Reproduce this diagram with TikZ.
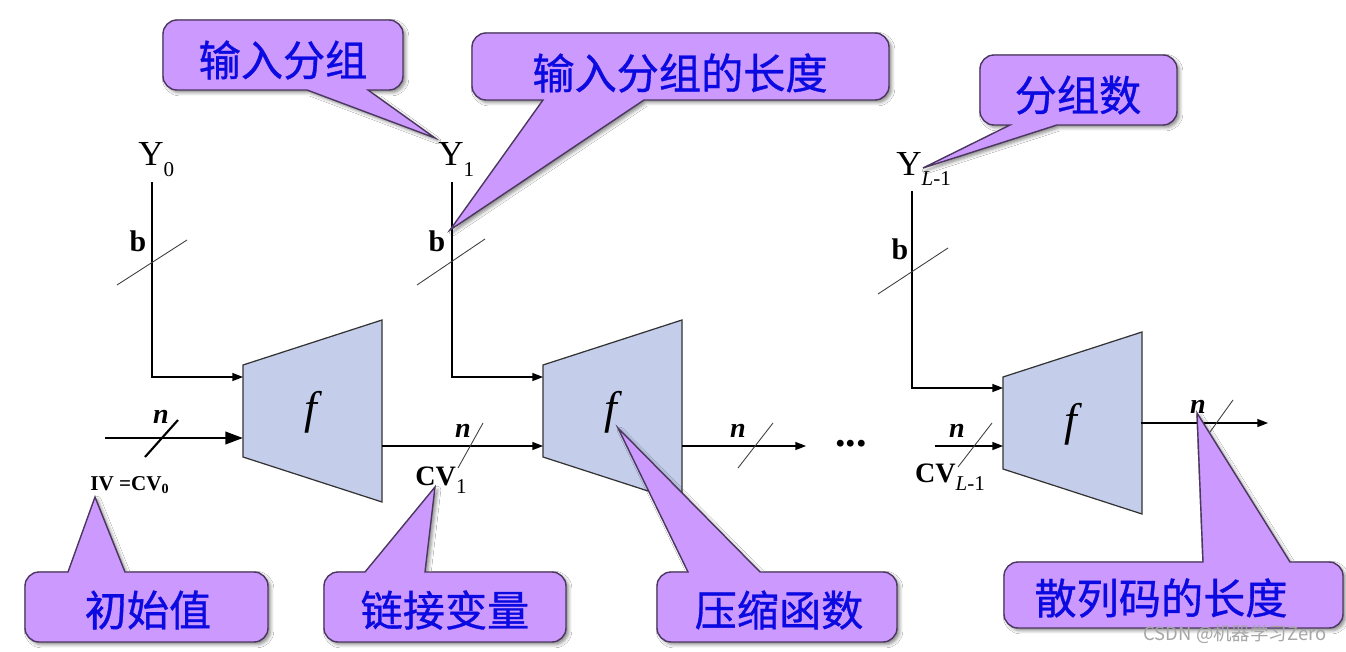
\documentclass[tikz,border=0pt]{standalone}
\usepackage{fontspec}
\setmainfont{Liberation Serif}
\newfontfamily\cjk{Noto Sans CJK SC}
\newfontfamily\cjkm{Noto Sans CJK SC}[FakeBold=0.8]
\usetikzlibrary{arrows.meta,shadows.blur}
\definecolor{boxBlue}{RGB}{196,206,235}
\definecolor{bubblePurple}{RGB}{204,153,255}
\definecolor{bubbleEdge}{RGB}{75,55,95}
\definecolor{labelBlue}{RGB}{10,10,225}
\newcommand{\idx}[1]{\raisebox{-0.3em}{\fontsize{12}{12}\selectfont #1}}

\begin{document}
\begin{tikzpicture}[x=0.02cm, y=-0.02cm,
  wire/.style={line width=0.8pt, -{Triangle[length=6pt,width=4.5pt]}},
  tick/.style={line width=0.5pt, black!75},
  fbox/.style={fill=boxBlue, draw=black!80, line width=0.7pt},
  flab/.style={font=\fontsize{26}{26}\selectfont},
  ylab/.style={anchor=base, inner sep=0pt, font=\fontsize{20}{20}\selectfont},
  blab/.style={anchor=base, inner sep=0pt, font=\bfseries\fontsize{17}{17}\selectfont},
  nlab/.style={anchor=base, inner sep=0pt, font=\bfseries\itshape\fontsize{16}{16}\selectfont},
  cvlab/.style={anchor=base, inner sep=0pt, font=\bfseries\fontsize{16}{16}\selectfont},
  bubble/.style={fill=bubblePurple, draw=bubbleEdge, line width=0.8pt,
    blur shadow={shadow xshift=1.5pt, shadow yshift=-1.5pt, shadow blur steps=4, shadow opacity=45}},
  bubbletext/.style={text=labelBlue, font=\cjkm\fontsize{24}{28}\selectfont}]

% Background
\fill[white] (0,0) rectangle (1346,652);
\useasboundingbox (0,0) rectangle (1346,652);

% Compression function boxes
\foreach \name/\x/\y in {f1/243/365, f2/543/365, f3/1003/377} {
  \draw[fbox] (\x,\y) -- ++(139,-45) -- ++(0,182) -- ++(-139,-45) -- cycle;
  \node[flab] (\name) at (\x+70,\y+47) {\textit{f}};
}

% Ports on the boxes
\coordinate (f1b) at (243,377);
\coordinate (f1c) at (243,438);
\coordinate (f1o) at (382,446);
\coordinate (f2b) at (543,377);
\coordinate (f2c) at (543,446);
\coordinate (f2o) at (682,446);
\coordinate (f3b) at (1003,388);
\coordinate (f3c) at (1003,446);
\coordinate (f3o) at (1141,423);

% Message blocks
\node[ylab] (Y0) at (151,166) {Y\rlap{\idx{0}}};
\node[ylab] (Y1) at (451,166) {Y\rlap{\idx{1}}};
\node[ylab] (YL) at (909,175) {Y\rlap{\idx{\textit{L}-1}}};
\coordinate (y0top) at (152,182);
\coordinate (y1top) at (452,182);
\coordinate (yLtop) at (912,191);
\draw[wire] (y0top) |- (f1b);
\draw[wire] (y1top) |- (f2b);
\draw[wire] (yLtop) |- (f3b);

% Block width marks
\draw[tick] (117,285) -- (187,240);
\draw[tick] (417,285) -- (485,239);
\draw[tick] (878,294) -- (948,248);
\node[blab] (b0) at (138,251) {b};
\node[blab] (b1) at (437,251) {b};
\node[blab] (bL) at (900,259) {b};

% Chaining values
\coordinate (ivstart) at (105,438);
\coordinate (out2end) at (806,446);
\coordinate (cvLstart) at (935,446);
\coordinate (out3end) at (1268,423);
\draw[line width=1.5pt, -{Triangle[length=10pt,width=7pt]}] (ivstart) -- (f1c);
\draw[wire] (f1o) -- (f2c);
\draw[wire] (f2o) -- (out2end);
\draw[wire] (cvLstart) -- (f3c);
\draw[wire] (f3o) -- (out3end);

% Chaining value width marks
\draw[line width=1.2pt] (145,457) -- (178,420);
\draw[tick] (458,468) -- (483,423);
\draw[tick] (738,468) -- (773,423);
\draw[tick] (958,467) -- (992,423);
\draw[tick] (1210,432) -- (1233,400);
\node[nlab] (n0) at (161,423) {n};
\node[nlab] (n1) at (463,437) {n};
\node[nlab] (n2) at (738,437) {n};
\node[nlab] (nL) at (957,437) {n};
\node[nlab] (nout) at (1198,413) {n};
\node[anchor=base, inner sep=0pt, font=\bfseries\fontsize{24}{24}\selectfont] (dots) at (851,446) {...};

\node[anchor=base, inner sep=0pt, font=\bfseries\fontsize{12}{12}\selectfont] (iv) at (130,490) {IV =CV\textsubscript{0}};
\node[cvlab] (cv1) at (441,485) {CV\idx{\mdseries 1}};
\node[cvlab] (cvL) at (950,482) {CV\idx{\mdseries\textit{L}-1}};

% Callouts
\draw[bubble] (163,55) [rounded corners=8pt] -- (163,20) -- (403,20) -- (403,90) [sharp corners] -- (368,90) -- (435,138) -- (307,90) [rounded corners=8pt] -- (163,90) -- cycle;
\node[bubbletext] (c1) at (283,60) {输入分组};

\draw[bubble] (889,66) [rounded corners=8pt] -- (889,100) [sharp corners] -- (644,100) -- (450,230) -- (543,100) [rounded corners=8pt] -- (472,100) -- (472,33) -- (889,33) -- cycle;
\node[bubbletext] (c2) at (680,73) {输入分组的长度};

\draw[bubble] (1177,90) [rounded corners=8pt] -- (1177,125) [sharp corners] -- (1057,125) -- (923,168) -- (1010,125) [rounded corners=8pt] -- (980,125) -- (980,55) -- (1177,55) -- cycle;
\node[bubbletext] (c3) at (1078,95) {分组数};

\draw[bubble] (25,607) [rounded corners=8pt] -- (25,572) [sharp corners] -- (68,572) -- (95,497) -- (125,572) [rounded corners=8pt] -- (268,572) -- (268,642) -- (25,642) -- cycle;
\node[bubbletext] (c4) at (148,610) {初始值};

\draw[bubble] (324,607) [rounded corners=8pt] -- (324,572) [sharp corners] -- (365,572) -- (435,487) -- (425,572) [rounded corners=8pt] -- (566,572) -- (566,642) -- (324,642) -- cycle;
\node[bubbletext] (c5) at (445,610) {链接变量};

\draw[bubble] (657,607) [rounded corners=8pt] -- (657,572) [sharp corners] -- (688,572) -- (618,428) -- (760,572) [rounded corners=8pt] -- (897,572) -- (897,642) -- (657,642) -- cycle;
\node[bubbletext] (c6) at (779,610) {压缩函数};

\draw[bubble] (1004,595) [rounded corners=8pt] -- (1004,562) [sharp corners] -- (1203,562) -- (1197,413) -- (1290,562) [rounded corners=8pt] -- (1343,562) -- (1343,628) -- (1004,628) -- cycle;
\node[bubbletext] (c7) at (1161,598) {散列码的长度};

% Watermark
\node[text=black!35, font=\cjk\fontsize{10.5}{12}\selectfont] (mark) at (1235,634) {CSDN @机器学习Zero};

\end{tikzpicture}
\end{document}
